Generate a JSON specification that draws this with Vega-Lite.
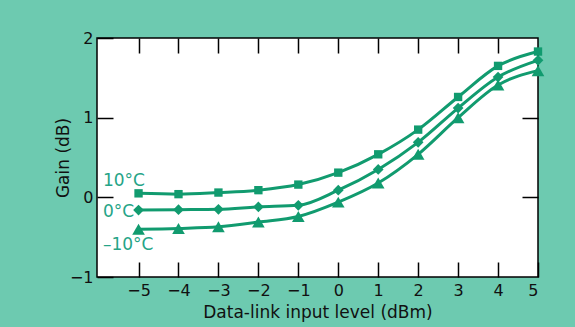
{
  "$schema": "https://vega.github.io/schema/vega-lite/v6.json",
  "width": 441,
  "height": 239,
  "autosize": "none",
  "padding": {"left": 97, "top": 38, "right": 37, "bottom": 50},
  "background": "#6dcab0",
  "config": {
    "view": {"fill": "white", "stroke": "black", "strokeWidth": 1.5},
    "font": "DejaVu Sans",
    "axis": {
      "domain": false,
      "grid": false,
      "tickColor": "black",
      "tickWidth": 1.5,
      "labelColor": "#111111",
      "titleColor": "#111111",
      "labelFont": "DejaVu Sans",
      "titleFont": "DejaVu Sans",
      "labelFontSize": 16,
      "titleFontSize": 17,
      "titleFontWeight": "normal"
    }
  },
  "datasets": {
    "gain": [
      {"x": -5, "g": 0.05, "T": "10°C"},
      {"x": -4, "g": 0.04, "T": "10°C"},
      {"x": -3, "g": 0.06, "T": "10°C"},
      {"x": -2, "g": 0.09, "T": "10°C"},
      {"x": -1, "g": 0.16, "T": "10°C"},
      {"x": 0, "g": 0.31, "T": "10°C"},
      {"x": 1, "g": 0.54, "T": "10°C"},
      {"x": 2, "g": 0.85, "T": "10°C"},
      {"x": 3, "g": 1.26, "T": "10°C"},
      {"x": 4, "g": 1.65, "T": "10°C"},
      {"x": 5, "g": 1.83, "T": "10°C"},
      {"x": -5, "g": -0.16, "T": "0°C"},
      {"x": -4, "g": -0.155, "T": "0°C"},
      {"x": -3, "g": -0.15, "T": "0°C"},
      {"x": -2, "g": -0.12, "T": "0°C"},
      {"x": -1, "g": -0.1, "T": "0°C"},
      {"x": 0, "g": 0.09, "T": "0°C"},
      {"x": 1, "g": 0.35, "T": "0°C"},
      {"x": 2, "g": 0.69, "T": "0°C"},
      {"x": 3, "g": 1.12, "T": "0°C"},
      {"x": 4, "g": 1.51, "T": "0°C"},
      {"x": 5, "g": 1.72, "T": "0°C"},
      {"x": -5, "g": -0.4, "T": "-10°C"},
      {"x": -4, "g": -0.39, "T": "-10°C"},
      {"x": -3, "g": -0.37, "T": "-10°C"},
      {"x": -2, "g": -0.31, "T": "-10°C"},
      {"x": -1, "g": -0.24, "T": "-10°C"},
      {"x": 0, "g": -0.06, "T": "-10°C"},
      {"x": 1, "g": 0.18, "T": "-10°C"},
      {"x": 2, "g": 0.54, "T": "-10°C"},
      {"x": 3, "g": 1.0, "T": "-10°C"},
      {"x": 4, "g": 1.41, "T": "-10°C"},
      {"x": 5, "g": 1.59, "T": "-10°C"}
    ],
    "labels": [
      {"x": -5.89, "g": 0.2, "label": "10°C"},
      {"x": -5.89, "g": -0.18, "label": "0°C"},
      {"x": -5.89, "g": -0.6, "label": "–10°C"}
    ]
  },
  "resolve": {"axis": {"x": "independent", "y": "independent"}},
  "layer": [
    {
      "data": {"name": "gain"},
      "mark": {"type": "line", "interpolate": "monotone", "color": "#119b6f", "strokeWidth": 3},
      "encoding": {
        "x": {
          "field": "x", "type": "quantitative",
          "scale": {"domain": [-6.04, 5], "nice": false, "zero": false},
          "axis": {"orient": "bottom", "values": [-5, -4, -3, -2, -1, 0, 1, 2, 3, 4, 5], "tickSize": -15, "labelPadding": 20, "title": "Data-link input level (dBm)", "titlePadding": 6}
        },
        "y": {
          "field": "g", "type": "quantitative",
          "scale": {"domain": [-1, 2], "nice": false, "zero": false},
          "axis": {"orient": "left", "values": [-1, 0, 1, 2], "tickSize": -16, "labelPadding": 20, "title": "Gain (dB)", "titlePadding": -3}
        },
        "detail": {"field": "T"}
      }
    },
    {
      "data": {"name": "gain"},
      "mark": {"type": "point", "filled": true, "opacity": 1, "color": "#119b6f"},
      "encoding": {
        "x": {"field": "x", "type": "quantitative", "axis": {"orient": "top", "values": [-5, -4, -3, -2, -1, 0, 1, 2, 3, 4], "tickSize": -15, "labels": false, "title": null}},
        "y": {"field": "g", "type": "quantitative", "axis": {"orient": "right", "values": [0, 1], "tickSize": -16, "labels": false, "title": null}},
        "shape": {"field": "T", "type": "nominal", "scale": {"domain": ["10°C", "0°C", "-10°C"], "range": ["square", "diamond", "triangle-up"]}, "legend": null},
        "size": {"field": "T", "type": "nominal", "scale": {"domain": ["10°C", "0°C", "-10°C"], "range": [70, 160, 85]}, "legend": null}
      }
    },
    {
      "data": {"name": "labels"},
      "mark": {"type": "text", "align": "left", "baseline": "middle", "fontSize": 17, "font": "DejaVu Sans", "color": "#25a487"},
      "encoding": {
        "x": {"field": "x", "type": "quantitative", "axis": null},
        "y": {"field": "g", "type": "quantitative", "axis": null},
        "text": {"field": "label"}
      }
    }
  ]
}
